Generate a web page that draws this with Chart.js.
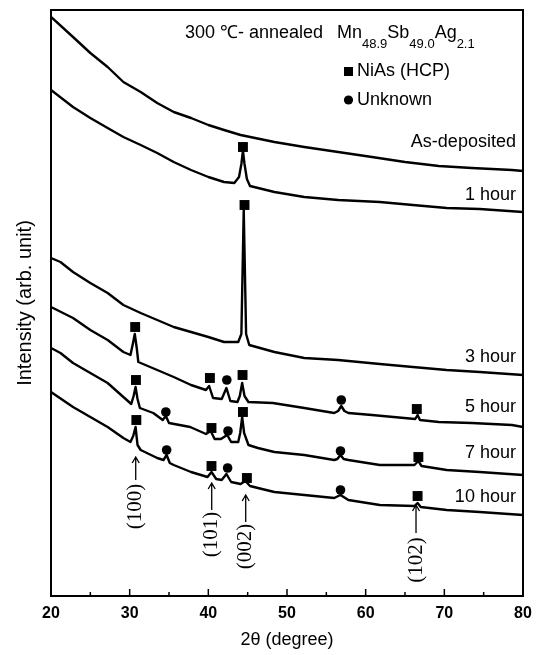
<!DOCTYPE html>
<html>
<head>
<meta charset="utf-8">
<script src="https://cdn.jsdelivr.net/npm/chart.js@4.4.1/dist/chart.umd.min.js"></script>
<style>
    html, body { margin: 0; padding: 0; background: #fff; }
    #wrap { width: 542px; height: 655px; }
</style>
</head>
<body>
<div id="wrap"><canvas id="xrdChart" width="542" height="655"></canvas></div>
<script>
// Patrones XRD - Mn48.9Sb49.0Ag2.1 recocido a 300 C

// Trazas (2theta en grados, intensidad en unidades arbitrarias)
const asDepAngle = [20, 22.8, 25, 27.2, 29.2, 31.4, 33.5, 35.6, 37.8, 40, 42, 44.1, 48.4, 52.2, 56.5, 60.8, 65, 69.3, 73.5, 78.6, 80];
const asDepInt   = [579, 559, 543, 529, 514, 504, 493, 484, 478, 471, 466, 461, 454, 449, 444, 439, 434, 430, 428, 426, 425];

const h1Angle = [20, 22.8, 25, 27.2, 29.2, 31.4, 33.5, 35.6, 37.8, 40, 42, 43.3, 43.9, 44.2, 44.4, 44.6, 44.9, 45.3, 48.4, 52.2, 56.5, 61.8, 66, 70.3, 74.5, 80];
const h1Int   = [506, 489, 478, 468, 459, 451, 443, 434, 426, 419, 414, 413, 419, 432, 445, 432, 417, 410, 404, 399, 396, 394, 391, 388, 387, 384];

const h3Angle = [20, 21.2, 22.8, 25, 27.2, 29.2, 31.4, 33.5, 35.6, 37.8, 40, 42, 43.8, 44.2, 44.5, 44.8, 45.2, 48.4, 52.2, 56.5, 61.8, 66, 70.3, 74.5, 80];
const h3Int   = [338, 334, 324, 313, 303, 291, 283, 276, 269, 264, 259, 254, 254, 262, 386, 262, 251, 244, 238, 236, 232, 229, 226, 224, 221];

const h5Angle = [20, 22.8, 25, 27.2, 29.2, 30.1, 30.4, 30.65, 30.9, 31.1, 33.5, 35.6, 37.8, 39.7, 40.1, 40.6, 41.7, 42.3, 42.8, 43.7, 44.0, 44.3, 44.6, 45.1, 48.2, 52.2, 56, 56.5, 56.9, 57.3, 57.8, 60.8, 64.9, 66.3, 66.6, 66.9, 69.3, 73.5, 78.6, 80];
const h5Int   = [289, 278, 266, 256, 244, 241, 252, 262, 248, 234, 226, 219, 211, 206, 210, 198, 197, 208, 195, 194, 200, 213, 200, 194, 193, 188, 183, 185, 190, 185, 183, 181, 178, 177, 181, 176, 174, 173, 171, 169];

const h7Angle = [20, 21.2, 22.8, 25, 27.2, 28.2, 29.2, 30.2, 30.5, 30.75, 31.0, 31.3, 33, 34.2, 34.6, 35.0, 37.7, 39.7, 40.3, 40.8, 41.6, 42.4, 42.9, 43.8, 44.05, 44.3, 44.55, 45.1, 46.3, 48.4, 52.2, 56, 56.4, 56.8, 57.2, 57.8, 61.8, 66.2, 66.7, 67.1, 70.3, 74.5, 80];
const h7Int   = [248, 243, 233, 223, 213, 206, 199, 192, 200, 209, 197, 188, 183, 176, 180, 173, 169, 162, 165, 157, 157, 161, 154, 154, 163, 179, 163, 151, 148, 144, 141, 136, 137, 141, 137, 136, 131, 131, 135, 130, 126, 124, 121];

const h10Angle = [20, 22.8, 25, 27.2, 29.2, 30.1, 30.45, 30.75, 31.0, 31.4, 33.5, 34.3, 34.7, 35.1, 35.6, 37.8, 39.9, 40.4, 41.0, 41.7, 42.3, 42.9, 44.1, 44.7, 45.3, 46.3, 48.4, 52.2, 56, 56.8, 57.8, 61.8, 66.2, 66.6, 67, 70.3, 74.5, 80];
const h10Int   = [204, 189, 179, 169, 158, 154, 160, 169, 151, 146, 138, 136, 141, 133, 131, 124, 119, 124, 117, 116, 122, 114, 112, 115, 110, 108, 104, 101, 98, 101, 96, 91, 90, 93, 89, 86, 84, 81];

// Marcadores de fase
const niasAngle = [44.4, 44.6, 30.7, 40.2, 44.35, 66.5, 30.8, 40.4, 44.4, 66.7, 30.85, 40.4, 44.9, 66.6];
const niasInt   = [449, 391, 269, 218, 221, 187, 216, 168, 184, 139, 176, 130, 118, 100];
const unknownAngle = [42.35, 56.9, 34.6, 42.5, 56.8, 34.7, 42.45, 56.8];
const unknownInt   = [216, 196, 184, 165, 145, 146, 128, 106];

// Etiquetas de cada traza
const traceLabels = ['As-deposited', '1 hour', '3 hour', '5 hour', '7 hour', '10 hour'];
const traceLabelInt = [454, 401, 239, 189, 143, 99];
const traceLabelAngle = 79.1;

// Indices (hkl) con flecha
const hklLabels = ['(100)', '(101)', '(002)', '(102)'];
const hklAngles = [30.77, 40.43, 44.75, 66.4];
const hklTip    = [139, 113, 101, 91];
const hklTail   = [116, 86, 74, 63];
const hklText   = [89.5, 61.5, 49.5, 36];

const xTicks = [20, 30, 40, 50, 60, 70, 80];

const SANS = '"Liberation Sans", Arial, sans-serif';
const SERIF = '"Liberation Serif", "Times New Roman", serif';

function toPoints(xs, ys) {
    return xs.map((x, i) => ({ x: x, y: ys[i] }));
}

function traceDataset(xs, ys) {
    return {
        type: 'line',
        data: toPoints(xs, ys),
        borderColor: '#000',
        borderWidth: 2.4,
        borderJoinStyle: 'round',
        pointRadius: 0,
        tension: 0,
        fill: false
    };
}

const decorPlugin = {
    id: 'decor',
    afterDatasetsDraw(chart) {
        const ctx = chart.ctx;
        const area = chart.chartArea;
        const xs = chart.scales.x;
        const ys = chart.scales.y;
        ctx.save();

        // marco
        ctx.strokeStyle = '#000';
        ctx.lineWidth = 2;
        ctx.strokeRect(area.left, area.top, area.right - area.left, area.bottom - area.top);

        // ticks hacia dentro
        ctx.lineWidth = 1.5;
        for (let v = 20; v <= 80; v += 5) {
            const px = xs.getPixelForValue(v);
            const len = v % 10 === 0 ? 7 : 4;
            ctx.beginPath();
            ctx.moveTo(px, area.bottom);
            ctx.lineTo(px, area.bottom - len);
            ctx.stroke();
        }

        ctx.fillStyle = '#000';
        ctx.textBaseline = 'middle';

        // titulo
        ctx.textAlign = 'left';
        ctx.font = '18px ' + SANS;
        ctx.fillText('300 \u2103- annealed', 185, 33);
        const parts = [['Mn', false], ['48.9', true], ['Sb', false], ['49.0', true], ['Ag', false], ['2.1', true]];
        let tx = 337;
        parts.forEach(p => {
            ctx.font = (p[1] ? '13px ' : '18px ') + SANS;
            ctx.fillText(p[0], tx, p[1] ? 44 : 33);
            tx += ctx.measureText(p[0]).width;
        });

        // leyenda
        ctx.fillRect(344, 67, 9, 9);
        ctx.beginPath();
        ctx.arc(348.5, 100, 4.6, 0, Math.PI * 2);
        ctx.fill();
        ctx.font = '18px ' + SANS;
        ctx.fillText('NiAs (HCP)', 357, 71);
        ctx.fillText('Unknown', 357, 100);

        // etiquetas de trazas
        ctx.textAlign = 'right';
        traceLabels.forEach((t, i) => {
            ctx.fillText(t, xs.getPixelForValue(traceLabelAngle), ys.getPixelForValue(traceLabelInt[i]));
        });

        // flechas (hkl)
        ctx.lineWidth = 1.3;
        hklLabels.forEach((t, i) => {
            const px = xs.getPixelForValue(hklAngles[i]);
            const tip = ys.getPixelForValue(hklTip[i]);
            const tail = ys.getPixelForValue(hklTail[i]);
            ctx.beginPath();
            ctx.moveTo(px, tail);
            ctx.lineTo(px, tip);
            ctx.moveTo(px - 3.5, tip + 6);
            ctx.lineTo(px, tip);
            ctx.lineTo(px + 3.5, tip + 6);
            ctx.stroke();

            ctx.save();
            ctx.translate(px, ys.getPixelForValue(hklText[i]));
            ctx.rotate(-Math.PI / 2);
            ctx.textAlign = 'center';
            ctx.font = '21px ' + SERIF;
            ctx.fillText(t, 0, 0);
            ctx.restore();
        });

        ctx.restore();
    }
};

document.addEventListener('DOMContentLoaded', function() {
    const ctx = document.getElementById('xrdChart').getContext('2d');

    new Chart(ctx, {
        type: 'line',
        data: {
            datasets: [
                traceDataset(asDepAngle, asDepInt),
                traceDataset(h1Angle, h1Int),
                traceDataset(h3Angle, h3Int),
                traceDataset(h5Angle, h5Int),
                traceDataset(h7Angle, h7Int),
                traceDataset(h10Angle, h10Int),
                {
                    type: 'line',
                    data: toPoints(niasAngle, niasInt),
                    showLine: false,
                    pointStyle: 'rect',
                    pointRadius: 7,
                    backgroundColor: '#000',
                    borderWidth: 0
                },
                {
                    type: 'line',
                    data: toPoints(unknownAngle, unknownInt),
                    showLine: false,
                    pointStyle: 'circle',
                    pointRadius: 4.8,
                    backgroundColor: '#000',
                    borderWidth: 0
                }
            ]
        },
        options: {
            responsive: false,
            animation: false,
            devicePixelRatio: 1,
            layout: {
                padding: { top: 10, right: 19, left: 0, bottom: 0 }
            },
            plugins: {
                legend: { display: false },
                tooltip: { enabled: false }
            },
            scales: {
                x: {
                    type: 'linear',
                    min: 20,
                    max: 80,
                    afterFit: function(scale) { scale.height = 59; },
                    afterBuildTicks: function(scale) {
                        scale.ticks = xTicks.map(v => ({ value: v }));
                    },
                    grid: { display: false, drawTicks: false },
                    border: { display: false },
                    ticks: {
                        color: '#000',
                        padding: 8,
                        maxRotation: 0,
                        font: { family: SANS, size: 16, weight: 'bold' }
                    },
                    title: {
                        display: true,
                        text: '2\u03b8 (degree)',
                        color: '#000',
                        font: { family: SANS, size: 18 },
                        padding: { top: 0, bottom: 4 }
                    }
                },
                y: {
                    type: 'linear',
                    min: 0,
                    max: 586,
                    afterFit: function(scale) { scale.width = 51; },
                    grid: { display: false, drawTicks: false },
                    border: { display: false },
                    ticks: { display: false },
                    title: {
                        display: true,
                        text: 'Intensity (arb. unit)',
                        color: '#000',
                        font: { family: SANS, size: 20 },
                        padding: { top: 13, bottom: 0 }
                    }
                }
            }
        },
        plugins: [decorPlugin]
    });
});
</script>
</body>
</html>
